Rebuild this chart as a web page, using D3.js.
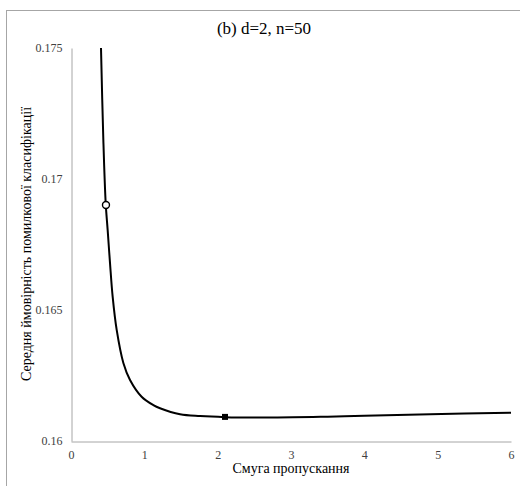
<!DOCTYPE html>
<html><head><meta charset="utf-8">
<script src="https://cdn.jsdelivr.net/npm/d3@7"></script>
<style>body{margin:0;background:#fff}svg{display:block}svg text{font-family:"Liberation Serif","Times New Roman","DejaVu Serif",serif}</style>
</head><body>
<script>
const title = "(b) d=2, n=50";
const xLabel = "Смуга пропускання";
const yLabel = "Середня ймовірність помилкової класифікації";
const xTicks = [0, 1, 2, 3, 4, 5, 6];
const yTicks = [0.16, 0.165, 0.17, 0.175];
const bandwidth = [0.409, 0.441, 0.473, 0.50, 0.532, 0.568, 0.623, 0.714, 0.805, 0.963, 1.123, 1.214, 1.487, 1.76, 2.1, 2.76, 3.5, 4.0, 4.9, 6.0];
const errorProb = [0.1750, 0.17149, 0.16908, 0.16805, 0.16679, 0.16551, 0.16424, 0.16298, 0.16233, 0.16169, 0.16137, 0.16125, 0.16102, 0.16095, 0.16091, 0.16090, 0.16093, 0.16096, 0.16102, 0.16108];
const circlePoint = [0.477, 0.16901];
const squarePoint = [2.1, 0.16092];

const W = 520, H = 486;
const svg = d3.select("body").append("svg").attr("width", W).attr("height", H);

svg.append("rect").attr("x", 6.5).attr("y", 10.5).attr("width", 530).attr("height", 500)
  .attr("fill", "none").attr("stroke", "#a6a6a6").attr("stroke-width", 1);

const x = d3.scaleLinear().domain([0, 6]).range([71, 511]);
const y = d3.scaleLinear().domain([0.16, 0.175]).range([441, 48]);

const xAxis = svg.append("g").attr("transform", "translate(0,441.5)")
  .call(d3.axisBottom(x).tickValues(xTicks).tickSize(0).tickPadding(9).tickFormat(d3.format("d")));
xAxis.attr("font-family", null);
xAxis.select(".domain").attr("stroke", "#a6a6a6");
xAxis.selectAll("text").attr("font-size", 12).attr("fill", "#404040");

const yAxis = svg.append("g").attr("transform", "translate(71.5,0)")
  .call(d3.axisLeft(y).tickValues(yTicks).tickSize(0).tickPadding(9).tickFormat(d => String(+d.toFixed(3))));
yAxis.attr("font-family", null);
yAxis.select(".domain").attr("stroke", "#a6a6a6");
yAxis.selectAll("text").attr("font-size", 12).attr("fill", "#404040");

const pts = bandwidth.map((b, i) => [b, errorProb[i]]);
svg.append("path").datum(pts)
  .attr("d", d3.line().x(d => x(d[0])).y(d => y(d[1])).curve(d3.curveCatmullRom.alpha(0.5)))
  .attr("fill", "none").attr("stroke", "#000").attr("stroke-width", 2);

svg.append("circle").attr("cx", x(circlePoint[0])).attr("cy", y(circlePoint[1])).attr("r", 3.5)
  .attr("fill", "#fff").attr("stroke", "#000").attr("stroke-width", 1.4);
svg.append("rect").attr("x", x(squarePoint[0]) - 3).attr("y", y(squarePoint[1]) - 3)
  .attr("width", 6).attr("height", 6).attr("fill", "#000");

svg.append("text").attr("x", 264).attr("y", 34).attr("text-anchor", "middle")
  .attr("font-size", 17).attr("fill", "#000").text(title);
svg.append("text").attr("x", 291).attr("y", 473).attr("text-anchor", "middle")
  .attr("font-size", 14).attr("fill", "#000").text(xLabel);
svg.append("text").attr("transform", "translate(31,244) rotate(-90)").attr("text-anchor", "middle")
  .attr("font-size", 14).attr("fill", "#000").text(yLabel);
</script>
</body></html>
